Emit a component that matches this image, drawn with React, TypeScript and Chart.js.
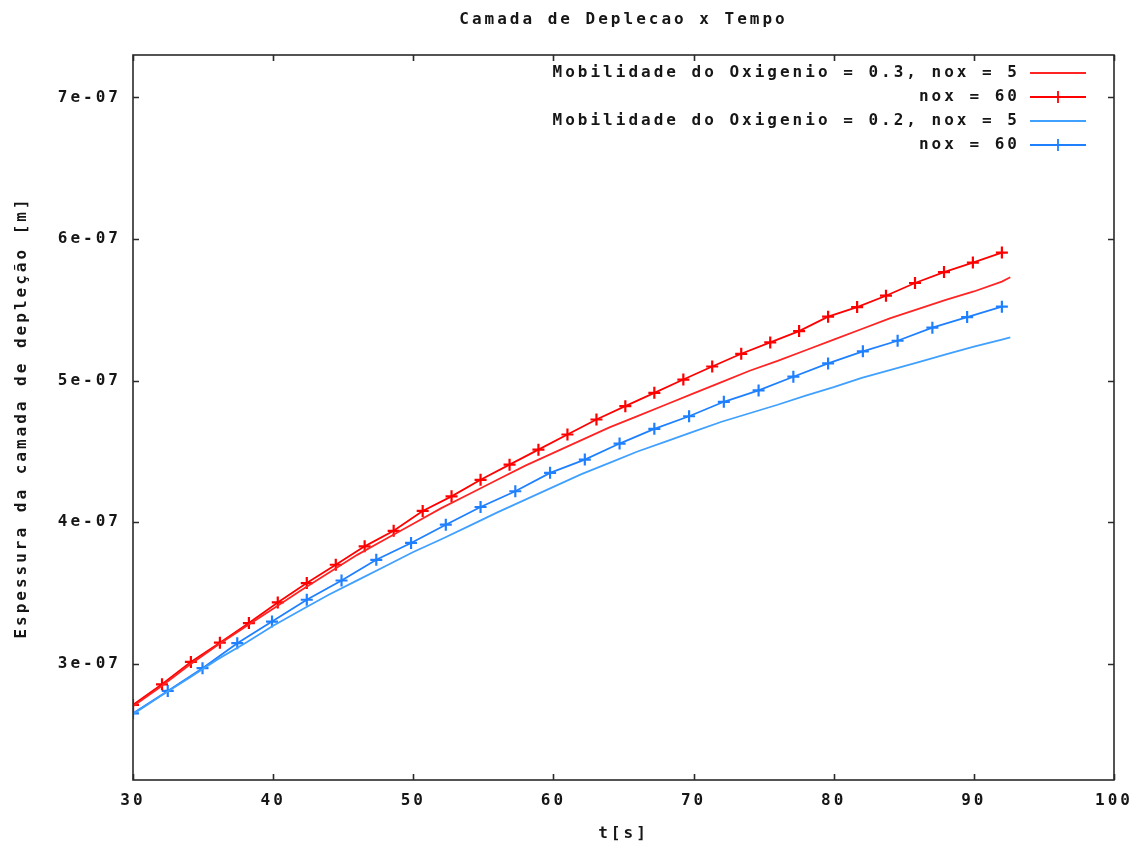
import { useEffect, useRef } from 'react';
import { Chart, registerables } from 'chart.js';

Chart.register(...registerables);

const FONT = '"DejaVu Sans Mono", monospace';
const LETTER_SPACING = '3px';
const TEXT_COLOR = '#161616';

const chartTitle = 'Camada de Deplecao x Tempo';
const xAxisTitle = 't[s]';
const yAxisTitle = 'Espessura da camada de depleção [m]';

const seriesNames = [
  'Mobilidade do Oxigenio = 0.3, nox = 5',
  'nox = 60',
  'Mobilidade do Oxigenio = 0.2, nox = 5',
  'nox = 60',
];
const seriesColors = ['#ff2424', '#ff0000', '#40a0ff', '#1f80ff'];
const seriesMarkers = [false, true, false, true];

const xTickValues = [30, 40, 50, 60, 70, 80, 90, 100];
const xTickLabels = ['30', '40', '50', '60', '70', '80', '90', '100'];
const yTickValues = [3e-7, 4e-7, 5e-7, 6e-7, 7e-7];
const yTickLabels = ['3e-07', '4e-07', '5e-07', '6e-07', '7e-07'];

// Mobilidade 0.3, nox = 5
const red5X = [30, 32, 34, 36, 38, 40, 42, 44, 46, 48, 50, 52, 54, 56, 58, 60, 62, 64, 66, 68, 70, 72, 74, 76, 78, 80, 82, 84, 86, 88, 90, 92, 92.6];
const red5Y = [2.70e-7, 2.84e-7, 2.99e-7, 3.13e-7, 3.26e-7, 3.39e-7, 3.52e-7, 3.645e-7, 3.77e-7, 3.88e-7, 3.99e-7, 4.10e-7, 4.20e-7, 4.30e-7, 4.40e-7, 4.49e-7, 4.58e-7, 4.67e-7, 4.75e-7, 4.83e-7, 4.91e-7, 4.99e-7, 5.07e-7, 5.14e-7, 5.215e-7, 5.29e-7, 5.365e-7, 5.44e-7, 5.505e-7, 5.57e-7, 5.63e-7, 5.70e-7, 5.73e-7];

// Mobilidade 0.3, nox = 60
const red60X = [30, 32.07, 34.13, 36.2, 38.27, 40.33, 42.4, 44.47, 46.53, 48.6, 50.67, 52.73, 54.8, 56.87, 58.93, 61, 63.07, 65.13, 67.2, 69.27, 71.33, 73.4, 75.47, 77.53, 79.6, 81.67, 83.73, 85.8, 87.87, 89.93, 92];
const red60Y = [2.71e-7, 2.856e-7, 3.014e-7, 3.15e-7, 3.288e-7, 3.434e-7, 3.571e-7, 3.70e-7, 3.83e-7, 3.94e-7, 4.08e-7, 4.183e-7, 4.30e-7, 4.407e-7, 4.513e-7, 4.62e-7, 4.726e-7, 4.82e-7, 4.914e-7, 5.008e-7, 5.10e-7, 5.19e-7, 5.27e-7, 5.35e-7, 5.452e-7, 5.52e-7, 5.60e-7, 5.69e-7, 5.767e-7, 5.834e-7, 5.905e-7];

// Mobilidade 0.2, nox = 5
const blue5X = [30, 32, 34, 36, 38, 40, 42, 44, 46, 48, 50, 52, 54, 56, 58, 60, 62, 64, 66, 68, 70, 72, 74, 76, 78, 80, 82, 84, 86, 88, 90, 92, 92.6];
const blue5Y = [2.645e-7, 2.775e-7, 2.90e-7, 3.03e-7, 3.145e-7, 3.27e-7, 3.38e-7, 3.49e-7, 3.59e-7, 3.69e-7, 3.79e-7, 3.88e-7, 3.975e-7, 4.07e-7, 4.16e-7, 4.25e-7, 4.34e-7, 4.42e-7, 4.50e-7, 4.57e-7, 4.64e-7, 4.71e-7, 4.77e-7, 4.83e-7, 4.895e-7, 4.955e-7, 5.02e-7, 5.075e-7, 5.13e-7, 5.185e-7, 5.24e-7, 5.29e-7, 5.305e-7];

// Mobilidade 0.2, nox = 60
const blue60X = [30, 32.48, 34.96, 37.44, 39.92, 42.4, 44.88, 47.36, 49.84, 52.32, 54.8, 57.28, 59.76, 62.24, 64.72, 67.2, 69.68, 72.16, 74.64, 77.12, 79.6, 82.08, 84.56, 87.04, 89.52, 92];
const blue60Y = [2.651e-7, 2.809e-7, 2.970e-7, 3.146e-7, 3.299e-7, 3.453e-7, 3.589e-7, 3.735e-7, 3.854e-7, 3.983e-7, 4.108e-7, 4.219e-7, 4.349e-7, 4.443e-7, 4.556e-7, 4.66e-7, 4.749e-7, 4.851e-7, 4.931e-7, 5.028e-7, 5.122e-7, 5.207e-7, 5.282e-7, 5.374e-7, 5.449e-7, 5.523e-7];

const seriesX = [red5X, red60X, blue5X, blue60X];
const seriesY = [red5Y, red60Y, blue5Y, blue60Y];

const zip = (xs: number[], ys: number[]) => xs.map((x, i) => ({ x, y: ys[i] }));

const spacingPlugin = {
  id: 'spacing',
  beforeDraw(chart: any) {
    chart.ctx.letterSpacing = LETTER_SPACING;
  },
};

const framePlugin = {
  id: 'frame',
  afterDatasetsDraw(chart: any) {
    const { ctx, chartArea: a, scales } = chart;
    ctx.save();
    ctx.strokeStyle = '#2a2a2a';
    ctx.lineWidth = 1.6;
    ctx.strokeRect(a.left, a.top, a.right - a.left, a.bottom - a.top);
    const L = 6;
    ctx.beginPath();
    xTickValues.forEach((v) => {
      const px = Math.round(scales.x.getPixelForValue(v)) + 0.5;
      ctx.moveTo(px, a.bottom);
      ctx.lineTo(px, a.bottom - L);
      ctx.moveTo(px, a.top);
      ctx.lineTo(px, a.top + L);
    });
    yTickValues.forEach((v) => {
      const py = Math.round(scales.y.getPixelForValue(v)) + 0.5;
      ctx.moveTo(a.left, py);
      ctx.lineTo(a.left + L, py);
      ctx.moveTo(a.right, py);
      ctx.lineTo(a.right - L, py);
    });
    ctx.stroke();
    ctx.restore();
  },
};

const textPlugin = {
  id: 'texts',
  afterDraw(chart: any) {
    const { ctx, chartArea: a } = chart;
    ctx.save();
    ctx.letterSpacing = LETTER_SPACING;
    ctx.font = `bold 16px ${FONT}`;
    ctx.fillStyle = TEXT_COLOR;
    ctx.textBaseline = 'middle';
    ctx.textAlign = 'center';
    ctx.fillText(chartTitle, (a.left + a.right) / 2, 20);

    ctx.textAlign = 'right';
    seriesNames.forEach((name, i) => {
      const y = 73 + i * 24;
      ctx.fillStyle = TEXT_COLOR;
      ctx.fillText(name, 1020, y);
      ctx.strokeStyle = seriesColors[i];
      ctx.lineWidth = 1.8;
      ctx.beginPath();
      ctx.moveTo(1030, y);
      ctx.lineTo(1086, y);
      if (seriesMarkers[i]) {
        ctx.moveTo(1058, y - 6);
        ctx.lineTo(1058, y + 6);
        ctx.moveTo(1052, y);
        ctx.lineTo(1064, y);
      }
      ctx.stroke();
    });
    ctx.restore();
  },
};

export default function App() {
  const ref = useRef<HTMLCanvasElement | null>(null);

  useEffect(() => {
    if (!ref.current) return;
    const tickFont = { family: FONT, size: 16, weight: 'bold' as const };
    const chart = new Chart(ref.current, {
      type: 'line',
      data: {
        datasets: seriesNames.map((name, i) => ({
          label: name,
          data: zip(seriesX[i], seriesY[i]),
          borderColor: seriesColors[i],
          backgroundColor: seriesColors[i],
          borderWidth: 1.8,
          tension: 0,
          fill: false,
          pointStyle: 'cross',
          pointRadius: seriesMarkers[i] ? 6 : 0,
          pointBorderWidth: 2.2,
          pointBorderColor: seriesColors[i],
        })),
      },
      options: {
        responsive: false,
        animation: false,
        devicePixelRatio: 1,
        layout: { padding: { top: 55, right: 30, bottom: 0, left: 0 } },
        plugins: {
          legend: { display: false },
          title: { display: false },
          tooltip: { enabled: false },
        },
        scales: {
          x: {
            type: 'linear',
            min: 30,
            max: 100,
            grid: { display: false, drawTicks: false },
            border: { display: false },
            afterBuildTicks: (scale: any) => {
              scale.ticks = xTickValues.map((v) => ({ value: v }));
            },
            afterFit: (scale: any) => {
              scale.height = 70;
            },
            ticks: {
              autoSkip: false,
              maxRotation: 0,
              padding: 11,
              color: TEXT_COLOR,
              font: tickFont,
              callback: (_v: any, i: number) => xTickLabels[i],
            },
            title: {
              display: true,
              text: xAxisTitle,
              color: TEXT_COLOR,
              font: tickFont,
              padding: { top: 4, bottom: 7 },
            },
          },
          y: {
            type: 'linear',
            min: 2.18e-7,
            max: 7.3e-7,
            grid: { display: false, drawTicks: false },
            border: { display: false },
            afterBuildTicks: (scale: any) => {
              scale.ticks = yTickValues.map((v) => ({ value: v }));
            },
            afterFit: (scale: any) => {
              scale.width = 133;
            },
            ticks: {
              autoSkip: false,
              padding: 12,
              color: TEXT_COLOR,
              font: tickFont,
              callback: (_v: any, i: number) => yTickLabels[i],
            },
            title: {
              display: true,
              text: yAxisTitle,
              color: TEXT_COLOR,
              font: tickFont,
              padding: { top: 12, bottom: 4 },
            },
          },
        },
      },
      plugins: [spacingPlugin, framePlugin, textPlugin],
    });
    return () => chart.destroy();
  }, []);

  return (
    <div style={{ position: 'absolute', left: 0, top: 0, width: 1144, height: 850, background: '#fff' }}>
      <canvas ref={ref} width={1144} height={850} style={{ display: 'block' }} />
    </div>
  );
}
